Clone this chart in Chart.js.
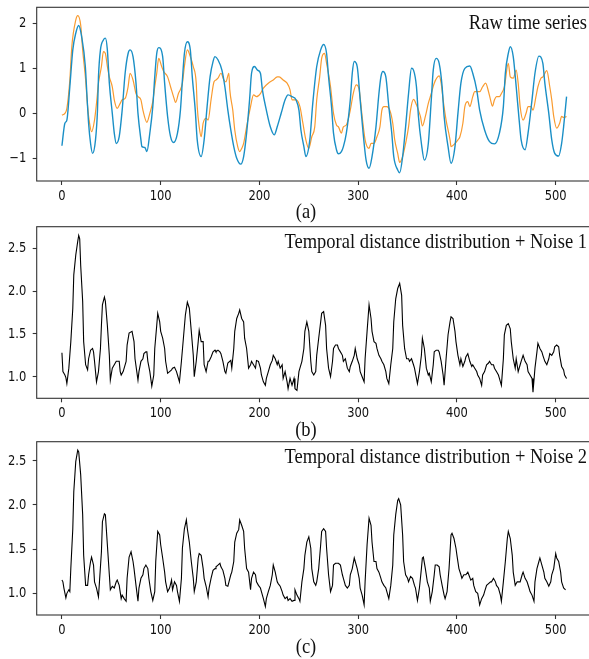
<!DOCTYPE html>
<html><head><meta charset="utf-8">
<script src="https://cdn.jsdelivr.net/npm/chart.js@4.4.0/dist/chart.umd.min.js"></script>
<style>
html,body{margin:0;padding:0;overflow:hidden;background:#fff;width:589px;height:659px;}
canvas{position:absolute;left:0;}
.lab{position:absolute;left:256px;width:100px;text-align:center;font-family:"Liberation Serif","Times New Roman",serif;font-size:18.5px;line-height:18.5px;color:#111;white-space:nowrap;transform:scaleY(1.1);}
</style></head><body>
<canvas id="ca"></canvas>
<canvas id="cb"></canvas>
<canvas id="cc"></canvas>
<div class="lab" style="top:202px">(a)</div>
<div class="lab" style="top:420px">(b)</div>
<div class="lab" style="top:637px">(c)</div>
<script>
// ---- data (x = time index, y = value) ----
const xTickValues = [0,100,200,300,400,500];
const rawTicks = [-1,0,1,2];
const distTicks = [1.0,1.5,2.0,2.5];
const panelTitles = ["Raw time series","Temporal distance distribution + Noise 1","Temporal distance distribution + Noise 2"];

const rawBlue = [[0,-0.72],[3,-0.22],[5,-0.15],[8,0.59],[11,1.41],[14,1.78],[17,1.95],[20,1.70],[23.7,1.04],[25.4,0.37],[27,-0.22],[29,-0.67],[31,-0.89],[34,-0.59],[36,0.07],[37,0.81],[39,1.41],[42,1.63],[44,1.67],[46,1.41],[48,0.67],[51,0.0],[53,-0.44],[55,-0.67],[58,-0.52],[61,0.07],[64,0.89],[67,1.33],[69,1.41],[72,1.26],[75,0.67],[77,0.0],[80,-0.59],[81,-0.74],[84,-0.76],[86,-0.85],[89,-0.44],[92,0.15],[94,0.81],[96,1.33],[98,1.46],[102,1.26],[104,0.67],[107,-0.07],[110,-0.52],[113,-0.65],[117,-0.44],[120,0.07],[122,0.74],[124,1.33],[127,1.59],[130,1.41],[132,0.81],[135,0.07],[137,-0.59],[141,-0.96],[144,-0.59],[147,0.15],[150,0.81],[153,1.15],[155,1.26],[158,1.19],[162,0.96],[165,0.59],[168,0.07],[171,-0.37],[174,-0.74],[177,-1.0],[181,-1.13],[184,-0.96],[187,-0.44],[190,0.30],[192,0.89],[195,1.04],[198,0.96],[201,0.89],[203,0.52],[207,0.07],[211,-0.30],[215,-0.48],[218,-0.30],[222,0.0],[226,0.30],[229,0.41],[233,0.37],[237,0.30],[240,0.07],[242,-0.37],[245,-0.74],[247,-0.96],[251,-0.59],[254,0.22],[258,1.04],[262,1.41],[265,1.53],[268,1.33],[270,0.81],[273,0.15],[275,-0.44],[278,-0.81],[280,-0.90],[283,-0.85],[285,-0.74],[288,-0.44],[292,0.30],[294,0.89],[296,1.15],[299,1.04],[302,0.30],[305,-0.44],[308,-1.04],[311,-1.22],[314,-0.96],[318,-0.30],[321,0.44],[323,0.81],[325,0.93],[328,0.81],[331,0.15],[334,-0.44],[336,-0.96],[340,-1.26],[342,-1.32],[345,-0.96],[348,-0.30],[351,0.44],[354,1.0],[356,0.96],[359,0.59],[361,-0.07],[364,-0.67],[367,-1.04],[371,-0.67],[374,0.30],[376,0.96],[379,1.22],[382,1.11],[385,0.59],[387,-0.07],[391,-0.74],[394,-1.11],[398,-0.74],[401,0.0],[404,0.67],[408,1.0],[413,1.05],[416,0.89],[420,0.52],[423,0.07],[428,-0.37],[433,-0.63],[438,-0.68],[443,-0.44],[447,0.15],[449,0.89],[452,1.33],[454,1.48],[457,1.26],[460,0.59],[463,-0.15],[465,-0.59],[469,-0.81],[472,-0.44],[476,0.30],[479,0.89],[483,1.27],[487,1.11],[489,0.67],[493,0.0],[496,-0.59],[499,-0.89],[503,-0.95],[506,-0.67],[508,-0.30],[511,0.37]];

const rawOrange = [[0,-0.04],[3,0.0],[5,0.11],[8,0.74],[10,1.48],[14,2.07],[16,2.17],[19,1.96],[21,1.41],[24,0.74],[26,0.15],[28,-0.22],[30,-0.41],[33,-0.15],[35,0.22],[37,0.67],[40,1.04],[42,1.37],[44,1.33],[46,1.04],[48,0.81],[51,0.59],[53,0.30],[56,0.11],[59,0.22],[61,0.30],[64,0.33],[67,0.59],[69,0.89],[72,0.74],[75,0.44],[77,0.37],[80,0.30],[82,0.07],[86,-0.20],[89,0.0],[92,0.26],[94,0.59],[96,0.89],[98,1.22],[101,1.04],[103,0.93],[107,0.81],[110,0.59],[114,0.30],[115,0.24],[118,0.44],[120,0.53],[122,0.67],[124,1.04],[127,1.41],[130,1.26],[133,1.04],[136,0.67],[137,0.15],[139,-0.30],[141,-0.52],[143,-0.22],[146,-0.11],[148,-0.15],[151,0.30],[154,0.70],[156,0.74],[158,0.78],[161,0.89],[164,0.74],[166,0.70],[169,0.89],[170,0.52],[173,0.07],[175,-0.37],[178,-0.74],[180,-0.85],[182,-0.78],[184,-0.67],[187,-0.30],[191,0.15],[194,0.41],[197,0.37],[201,0.44],[204,0.56],[209,0.67],[214,0.74],[218,0.81],[220,0.81],[224,0.74],[228,0.67],[231,0.52],[233,0.30],[237,0.30],[241,0.15],[244,-0.22],[247,-0.59],[250,-0.78],[253,-0.52],[256,-0.30],[258,0.30],[261,0.81],[263,1.22],[266,1.33],[268,1.11],[272,0.59],[275,0.0],[278,-0.26],[280,-0.30],[283,-0.44],[285,-0.30],[288,-0.26],[292,0.07],[295,0.44],[298,0.63],[301,0.52],[304,-0.07],[307,-0.59],[311,-0.78],[313,-0.67],[316,-0.67],[319,-0.52],[322,-0.30],[324,0.07],[326,0.15],[329,0.15],[332,0.07],[335,-0.22],[337,-0.59],[340,-0.89],[342,-1.09],[345,-0.96],[348,-0.67],[351,-0.30],[353,0.07],[356,0.31],[359,0.19],[361,0.07],[363,-0.07],[365,-0.28],[368,-0.07],[371,0.22],[374,0.44],[377,0.67],[382,0.83],[384,0.67],[386,0.30],[389,-0.15],[393,-0.59],[394,-0.74],[398,-0.67],[401,-0.59],[403,-0.52],[406,-0.22],[408,0.15],[411,0.26],[413,0.15],[416,0.37],[418,0.48],[423,0.48],[426,0.59],[429,0.67],[432,0.48],[434,0.30],[436,0.16],[438,0.30],[440,0.37],[443,0.37],[445,0.44],[448,0.59],[452,1.11],[454,0.81],[457,0.78],[460,0.96],[462,0.67],[464,0.15],[467,-0.15],[470,0.0],[472,0.15],[475,0.15],[477,0.07],[480,0.37],[482,0.59],[485,0.78],[487,0.81],[491,0.95],[494,0.59],[496,0.30],[498,-0.07],[501,-0.33],[504,-0.22],[506,-0.07],[508,-0.09],[511,-0.07]];

const distNoise1 = [[0,1.28],[1,1.06],[3,1.02],[4,0.99],[5,0.92],[7,1.10],[9,1.41],[11,1.80],[12,2.19],[14,2.42],[16,2.58],[17,2.65],[18,2.61],[19,2.30],[21,1.88],[22,1.41],[24,1.14],[26,1.08],[27,1.21],[29,1.31],[31,1.33],[32,1.29],[33,1.18],[35,0.94],[37,1.06],[39,1.33],[40,1.60],[41,1.84],[43,1.93],[44,1.88],[46,1.60],[48,1.25],[49,0.96],[51,1.10],[53,1.14],[55,1.18],[56,1.18],[58,1.18],[59,1.06],[60,1.02],[62,1.06],[65,1.18],[66,1.37],[68,1.51],[71,1.53],[73,1.41],[74,1.21],[77,0.96],[78,1.06],[80,1.18],[82,1.21],[83,1.27],[85,1.29],[86,1.29],[87,1.18],[89,1.06],[91,0.89],[93,1.02],[94,1.33],[96,1.60],[97,1.74],[99,1.64],[100,1.53],[102,1.45],[104,1.33],[105,1.18],[107,1.04],[109,1.06],[111,1.08],[112,1.10],[114,1.11],[116,1.06],[117,1.02],[119,0.94],[121,1.18],[123,1.45],[125,1.72],[127,1.87],[129,1.80],[131,1.53],[133,1.25],[134,1.0],[136,1.18],[138,1.41],[139,1.54],[141,1.41],[143,1.41],[144,1.14],[146,1.06],[148,1.18],[149,1.18],[151,1.23],[153,1.29],[155,1.31],[156,1.29],[158,1.31],[160,1.29],[161,1.27],[163,1.18],[165,1.06],[166,1.04],[168,1.16],[171,1.19],[172,1.10],[174,1.33],[175,1.53],[177,1.68],[179,1.74],[180,1.78],[182,1.68],[184,1.64],[185,1.45],[187,1.33],[189,1.10],[191,1.14],[192,1.18],[194,1.14],[196,1.10],[197,1.19],[199,1.18],[201,1.10],[202,1.02],[204,0.94],[206,0.90],[207,0.98],[209,1.06],[211,1.14],[213,1.19],[214,1.25],[216,1.21],[218,1.14],[219,1.18],[221,1.10],[223,1.14],[224,0.98],[226,1.06],[228,0.94],[229,0.86],[231,0.98],[233,0.90],[235,0.98],[236,0.86],[238,0.84],[240,1.06],[241,1.10],[243,1.18],[245,1.33],[246,1.53],[248,1.64],[250,1.53],[252,1.18],[253,1.06],[255,1.02],[257,1.06],[258,1.25],[260,1.45],[262,1.64],[263,1.74],[265,1.76],[267,1.60],[268,1.33],[270,1.10],[272,1.0],[274,1.18],[275,1.33],[277,1.37],[279,1.37],[280,1.33],[282,1.29],[284,1.25],[285,1.18],[287,1.21],[289,1.10],[291,1.06],[292,1.12],[294,1.18],[296,1.25],[297,1.33],[299,1.21],[301,1.14],[302,1.06],[304,1.0],[306,0.94],[307,1.21],[309,1.53],[311,1.84],[313,1.68],[314,1.53],[316,1.41],[318,1.39],[319,1.33],[321,1.25],[323,1.21],[324,1.18],[326,1.14],[328,1.06],[329,0.98],[331,0.92],[333,1.14],[335,1.33],[336,1.64],[338,1.91],[340,2.03],[342,2.09],[344,1.95],[345,1.60],[347,1.33],[349,1.21],[351,1.21],[352,1.18],[354,1.21],[356,1.14],[357,1.10],[360,0.92],[362,1.06],[364,1.25],[365,1.45],[367,1.33],[369,1.10],[371,1.02],[372,1.04],[374,0.94],[376,1.14],[377,1.29],[379,1.31],[381,1.31],[382,1.29],[384,1.18],[386,1.02],[387,0.90],[389,1.21],[391,1.49],[393,1.64],[394,1.70],[396,1.68],[398,1.53],[399,1.41],[401,1.25],[403,1.14],[404,1.21],[406,1.12],[408,1.18],[409,1.23],[411,1.27],[413,1.18],[415,1.12],[416,1.14],[418,1.10],[420,1.06],[421,1.02],[423,0.98],[425,0.90],[426,1.02],[428,1.06],[430,1.14],[432,1.16],[433,1.18],[435,1.14],[437,1.14],[438,1.10],[440,1.06],[442,1.02],[443,0.98],[445,0.90],[447,1.21],[448,1.49],[450,1.60],[452,1.62],[454,1.56],[455,1.41],[457,1.21],[459,1.10],[460,1.21],[462,1.06],[464,1.14],[465,1.18],[467,1.25],[469,1.18],[471,1.14],[472,1.06],[474,1.02],[476,0.98],[477,0.82],[479,1.10],[481,1.29],[482,1.39],[484,1.33],[486,1.29],[487,1.25],[489,1.18],[491,1.14],[493,1.21],[494,1.27],[496,1.25],[498,1.29],[499,1.35],[501,1.37],[503,1.35],[504,1.25],[506,1.12],[508,1.08],[509,1.02],[511,0.98]];

const distNoise2 = [[0,1.15],[1,1.13],[2,1.06],[4,0.95],[5,1.0],[7,1.04],[8,1.02],[9,1.28],[11,1.73],[12,2.15],[14,2.49],[16,2.62],[17,2.60],[19,2.34],[21,1.89],[22,1.43],[24,1.09],[26,1.09],[27,1.21],[29,1.36],[30,1.41],[32,1.32],[33,1.13],[35,1.06],[37,0.96],[38,1.13],[40,1.47],[41,1.81],[43,1.90],[44,1.89],[46,1.55],[48,1.21],[49,1.04],[51,1.08],[53,1.06],[55,1.13],[56,1.15],[58,1.09],[60,0.94],[61,0.98],[63,0.94],[65,0.91],[66,1.17],[68,1.41],[70,1.47],[72,1.36],[73,1.28],[75,1.09],[77,0.91],[78,1.06],[80,1.17],[82,1.21],[83,1.28],[85,1.32],[87,1.28],[88,1.17],[90,1.02],[92,0.92],[94,1.02],[95,1.36],[97,1.70],[99,1.66],[100,1.55],[102,1.40],[104,1.24],[105,1.13],[107,1.02],[109,1.06],[111,1.15],[112,1.04],[114,1.13],[116,1.09],[117,1.02],[119,0.91],[121,1.17],[122,1.51],[124,1.73],[126,1.83],[127,1.73],[129,1.58],[131,1.36],[133,1.17],[134,1.02],[136,1.13],[138,1.40],[139,1.45],[141,1.43],[143,1.28],[144,1.17],[146,1.08],[148,0.96],[149,1.06],[151,1.17],[153,1.26],[155,1.28],[156,1.30],[158,1.32],[160,1.34],[161,1.30],[163,1.26],[165,1.17],[166,1.09],[168,1.08],[171,1.21],[172,1.24],[174,1.36],[175,1.58],[177,1.68],[179,1.72],[180,1.83],[182,1.77],[184,1.70],[185,1.51],[187,1.28],[189,1.24],[191,1.04],[192,1.17],[194,1.24],[196,1.21],[197,1.13],[199,1.09],[201,1.06],[202,1.02],[204,0.94],[206,0.85],[207,0.94],[209,1.02],[211,1.09],[213,1.21],[214,1.32],[216,1.24],[218,1.13],[219,1.11],[221,1.08],[223,1.02],[224,0.98],[226,0.94],[228,0.96],[229,0.92],[231,0.94],[233,0.91],[235,0.92],[236,1.04],[238,0.98],[240,0.94],[241,0.91],[243,1.13],[245,1.28],[246,1.43],[248,1.58],[250,1.64],[252,1.51],[253,1.28],[255,1.13],[257,1.09],[258,1.13],[260,1.28],[262,1.55],[263,1.70],[265,1.73],[267,1.70],[268,1.51],[270,1.21],[272,1.02],[274,1.09],[275,1.32],[277,1.34],[279,1.34],[280,1.34],[282,1.32],[284,1.21],[285,1.17],[287,1.09],[289,1.06],[291,1.09],[292,1.21],[294,1.28],[296,1.40],[297,1.36],[299,1.28],[301,1.17],[302,1.06],[304,0.98],[306,0.87],[307,1.13],[309,1.55],[311,1.85],[313,1.77],[314,1.58],[316,1.36],[318,1.36],[319,1.28],[321,1.24],[323,1.17],[324,1.13],[326,1.09],[328,1.06],[329,1.02],[331,0.94],[333,1.09],[335,1.32],[336,1.66],[338,1.89],[340,2.05],[341,2.07],[343,2.0],[345,1.66],[346,1.36],[348,1.21],[350,1.17],[351,1.13],[353,1.19],[355,1.17],[357,1.09],[358,1.06],[360,0.92],[362,1.06],[364,1.28],[365,1.40],[366,1.41],[368,1.28],[370,1.13],[372,1.06],[373,0.91],[375,1.02],[377,1.21],[378,1.32],[380,1.32],[382,1.30],[383,1.21],[385,1.09],[387,0.98],[388,0.94],[390,1.02],[392,1.28],[394,1.66],[395,1.68],[397,1.62],[399,1.51],[400,1.43],[402,1.28],[404,1.21],[405,1.17],[407,1.21],[409,1.21],[411,1.24],[412,1.21],[414,1.15],[416,1.17],[417,1.09],[419,1.02],[421,1.0],[422,0.94],[423,0.87],[425,0.94],[427,0.98],[428,1.02],[430,1.09],[432,1.11],[434,1.13],[435,1.13],[437,1.17],[439,1.13],[440,1.09],[442,1.06],[444,0.98],[445,0.91],[447,1.13],[449,1.36],[451,1.62],[452,1.70],[454,1.62],[456,1.43],[457,1.24],[459,1.09],[461,1.13],[462,1.13],[464,1.13],[466,1.21],[467,1.24],[469,1.17],[471,1.13],[473,1.06],[474,1.02],[476,0.98],[478,0.91],[479,1.13],[481,1.28],[483,1.36],[484,1.40],[486,1.32],[488,1.24],[489,1.17],[491,1.13],[493,1.08],[495,1.13],[496,1.21],[498,1.28],[500,1.45],[501,1.40],[503,1.36],[505,1.24],[506,1.13],[508,1.06],[510,1.04]];

// ---- helpers ----
const toXY = arr => arr.map(p => ({x: p[0], y: p[1]}));
const STRETCH = 1.18;

const framePlugin = {
  id: 'frame',
  afterDraw(chart, args, opts) {
    const {ctx, chartArea: a, scales} = chart;
    ctx.save();
    ctx.strokeStyle = '#333';
    ctx.lineWidth = 1.1;
    ctx.strokeRect(a.left, a.top, a.right - a.left, a.bottom - a.top);
    // tick labels (matplotlib-like, slightly tall glyphs)
    ctx.fillStyle = '#111';
    ctx.font = '11.5px "DejaVu Sans", sans-serif';
    ctx.textBaseline = 'middle';
    ctx.textAlign = 'center';
    xTickValues.forEach(v => {
      const px = scales.x.getPixelForValue(v);
      ctx.save(); ctx.translate(px, a.bottom + 15); ctx.scale(1, STRETCH);
      ctx.fillText(String(v), 0, 0); ctx.restore();
    });
    ctx.textAlign = 'right';
    opts.yTicks.forEach(v => {
      const py = scales.y.getPixelForValue(v);
      ctx.save(); ctx.translate(a.left - 10.5, py + 0.5); ctx.scale(1, STRETCH);
      ctx.fillText(opts.yFmt(v), 0, 0); ctx.restore();
    });
    // panel title
    ctx.font = '18.5px "Liberation Serif", "Times New Roman", serif';
    ctx.textAlign = 'right';
    ctx.textBaseline = 'alphabetic';
    ctx.save(); ctx.translate(587, a.top + 21.5); ctx.scale(1, 1.1);
    ctx.fillText(opts.title, 0, 0); ctx.restore();
    ctx.restore();
  }
};

function makePanel(id, canvasTop, chartTop, chartBottom, datasets, yMin, yMax, yTicks, yFmt, title) {
  const cv = document.getElementById(id);
  const h = Math.round(chartBottom - canvasTop + 28);
  cv.width = 600; cv.height = h;
  cv.style.top = canvasTop + 'px';
  cv.style.width = '600px'; cv.style.height = h + 'px';
  new Chart(cv, {
    type: 'line',
    data: {datasets},
    options: {
      responsive: false, animation: false, devicePixelRatio: 1,
      layout: {padding: {top: chartTop - canvasTop, left: 0, right: 600 - 591.8, bottom: 0}},
      plugins: {legend: {display: false}, tooltip: {enabled: false}, frame: {title, yTicks, yFmt}},
      elements: {point: {radius: 0}},
      scales: {
        x: {
          type: 'linear', min: -25.55, max: 536.55,
          afterBuildTicks: s => { s.ticks = xTickValues.map(v => ({value: v})); },
          afterFit: s => { s.height = h - (chartBottom - canvasTop); },
          ticks: {display: false},
          grid: {drawOnChartArea: false, drawTicks: true, tickLength: 4, color: '#333', tickWidth: 1.1},
          border: {display: false}
        },
        y: {
          type: 'linear', min: yMin, max: yMax,
          afterBuildTicks: s => { s.ticks = yTicks.map(v => ({value: v})); },
          afterFit: s => { s.width = 36.7; },
          ticks: {display: false},
          grid: {drawOnChartArea: false, drawTicks: true, tickLength: 4, color: '#333', tickWidth: 1.1},
          border: {display: false}
        }
      }
    },
    plugins: [framePlugin]
  });
}

makePanel('ca', 0, 7.3, 181, [
  {data: toXY(rawBlue), borderColor: '#1a8fc6', borderWidth: 1.4, cubicInterpolationMode: 'monotone', fill: false},
  {data: toXY(rawOrange), borderColor: '#f99b2f', borderWidth: 1.2, cubicInterpolationMode: 'monotone', fill: false}
], -1.504, 2.356, rawTicks, v => (v < 0 ? '\u2212' + Math.abs(v) : String(v)), panelTitles[0]);

makePanel('cb', 219, 226.7, 398.3, [
  {data: toXY(distNoise1), borderColor: '#000', borderWidth: 1.1, tension: 0, fill: false}
], 0.748, 2.752, distTicks, v => v.toFixed(1), panelTitles[1]);

makePanel('cc', 434, 441.7, 615, [
  {data: toXY(distNoise2), borderColor: '#000', borderWidth: 1.1, tension: 0, fill: false}
], 0.755, 2.715, distTicks, v => v.toFixed(1), panelTitles[2]);
</script>
</body></html>
